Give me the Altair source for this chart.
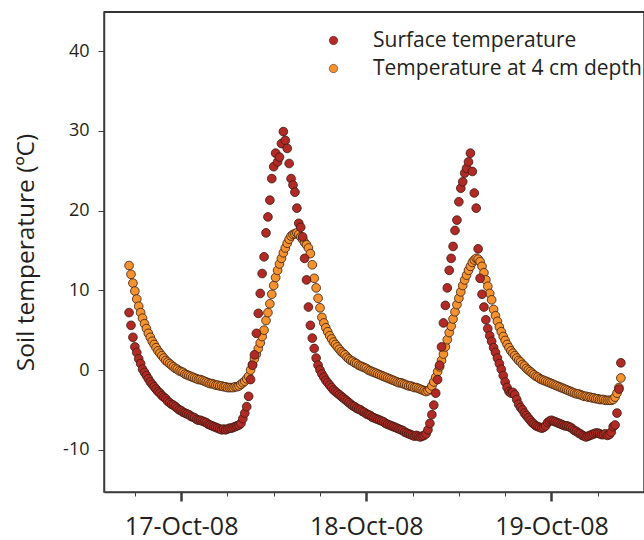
import altair as alt
import pandas as pd

series_names = ["Surface temperature", "Temperature at 4 cm depth"]
series_colors = ["#b22a26", "#f4922f"]
start_time = "2008-10-16T17:15:00"   # first reading, logger every 15 min
interval_minutes = 15

# Surface temperature (deg C), one row = one hour of 15-min readings
surface = [
    7.2, 5.6, 4.1, 2.9,
    2.2, 1.4, 0.8, 0.1,
    -0.3, -0.7, -1.1, -1.5,
    -1.8, -2.1, -2.4, -2.7,
    -2.9, -3.2, -3.4, -3.6,
    -3.9, -4.1, -4.3, -4.4,
    -4.6, -4.8, -5.0, -5.1,
    -5.3, -5.4, -5.5, -5.6,
    -5.8, -5.9, -6.0, -6.2,
    -6.3, -6.3, -6.4, -6.5,
    -6.6, -6.8, -6.9, -7.0,
    -7.1, -7.2, -7.3, -7.4,
    -7.5, -7.4, -7.5, -7.4,
    -7.3, -7.3, -7.2, -7.1,
    -7.0, -6.9, -6.7, -6.1,
    -5.4, -4.6, -3.3, -1.2,
    0.6, 1.9, 4.6, 7.1,
    9.6, 12.1, 14.2, 17.2,
    19.2, 21.3, 24.0, 25.5,
    27.2, 26.1, 26.7, 28.4,
    29.9, 28.8, 27.8, 25.9,
    24.0, 23.2, 22.3, 20.3,
    18.4, 17.9, 16.7, 14.0,
    11.3, 7.9, 5.6, 4.0,
    2.7, 1.5, 0.6, 0.0,
    -0.5, -0.9, -1.3, -1.6,
    -1.9, -2.2, -2.5, -2.7,
    -2.9, -3.1, -3.3, -3.5,
    -3.7, -3.9, -4.1, -4.3,
    -4.5, -4.6, -4.8, -4.9,
    -5.0, -5.2, -5.3, -5.5,
    -5.6, -5.7, -5.9, -6.0,
    -6.1, -6.2, -6.3, -6.4,
    -6.5, -6.7, -6.8, -6.9,
    -7.0, -7.1, -7.2, -7.3,
    -7.4, -7.5, -7.6, -7.8,
    -7.9, -8.0, -8.1, -8.2,
    -8.3, -8.2, -8.3, -8.4,
    -8.3, -8.2, -8.0, -7.5,
    -6.7, -5.6, -4.4, -2.9,
    -1.2, 0.6, 2.9, 5.9,
    8.1, 10.3, 12.5, 14.0,
    15.5, 17.5, 18.8, 21.1,
    22.8, 23.6, 24.7, 25.3,
    26.1, 27.2, 24.9, 22.2,
    20.3, 15.2, 11.5, 9.5,
    7.9, 6.3, 5.2, 4.3,
    3.6, 2.8, 2.2, 1.5,
    0.8, 0.1, -0.7, -1.5,
    -2.2, -2.7, -2.9, -2.8,
    -3.1, -3.7, -4.3, -4.7,
    -5.0, -5.4, -5.7, -6.0,
    -6.3, -6.6, -6.8, -7.0,
    -7.1, -7.2, -7.3, -7.2,
    -7.0, -6.6, -6.4, -6.3,
    -6.4, -6.5, -6.6, -6.7,
    -6.8, -6.9, -7.0, -7.0,
    -7.1, -7.2, -7.4, -7.6,
    -7.7, -7.9, -8.0, -8.2,
    -8.3, -8.4, -8.3, -8.2,
    -8.1, -8.0, -7.9, -7.9,
    -8.0, -8.1, -8.1, -8.0,
    -8.2, -8.1, -7.8, -7.1,
    -6.9, -5.4, -2.4, 0.9,
]

# Temperature at 4 cm depth (deg C), same timing
depth4 = [
    13.1, 12.0, 10.9, 9.9,
    8.9, 8.0, 7.2, 6.5,
    5.8, 5.2, 4.6, 4.1,
    3.6, 3.2, 2.8, 2.4,
    2.1, 1.8, 1.5, 1.2,
    1.0, 0.8, 0.6, 0.4,
    0.2, 0.1, -0.1, -0.2,
    -0.3, -0.5, -0.6, -0.7,
    -0.8, -0.9, -1.0, -1.1,
    -1.2, -1.2, -1.3, -1.4,
    -1.5, -1.6, -1.7, -1.7,
    -1.8, -1.9, -1.9, -2.0,
    -2.0, -2.1, -2.1, -2.2,
    -2.2, -2.2, -2.2, -2.1,
    -2.1, -2.0, -1.8, -1.6,
    -1.4, -1.1, -0.8, 0.0,
    0.7, 1.4, 2.0, 2.7,
    3.4, 4.2, 5.0, 6.2,
    7.2, 8.3, 9.5, 10.6,
    11.6, 12.5, 13.3, 14.0,
    14.7, 15.3, 15.9, 16.4,
    16.8, 17.0, 17.1, 17.2,
    17.0, 16.7, 16.4, 16.0,
    15.7, 15.3, 14.6, 13.2,
    11.5, 10.3, 9.0, 7.8,
    6.6, 5.9, 5.3, 4.8,
    4.3, 3.9, 3.5, 3.2,
    2.9, 2.6, 2.3, 2.1,
    1.9, 1.6, 1.4, 1.2,
    1.1, 0.9, 0.8, 0.6,
    0.5, 0.4, 0.3, 0.2,
    0.0, -0.1, -0.2, -0.3,
    -0.4, -0.5, -0.6, -0.7,
    -0.8, -0.9, -1.0, -1.1,
    -1.2, -1.3, -1.4, -1.5,
    -1.6, -1.6, -1.7, -1.8,
    -1.9, -2.0, -2.0, -2.1,
    -2.2, -2.2, -2.3, -2.4,
    -2.5, -2.6, -2.7, -2.6,
    -2.4, -2.0, -1.5, -0.9,
    -0.2, 0.4, 1.2, 2.0,
    2.9, 3.8, 4.7, 5.5,
    6.4, 7.3, 8.2, 9.0,
    9.8, 10.6, 11.3, 11.9,
    12.5, 13.0, 13.5, 13.8,
    14.0, 13.9, 13.6, 13.0,
    12.2, 11.3, 10.5, 9.6,
    8.8, 7.6, 6.8, 6.1,
    5.4, 4.8, 4.2, 3.7,
    3.2, 2.8, 2.4, 2.1,
    1.8, 1.5, 1.2, 1.0,
    0.7, 0.5, 0.2, 0.0,
    -0.2, -0.4, -0.6, -0.8,
    -0.9, -1.1, -1.2, -1.3,
    -1.4, -1.5, -1.6, -1.7,
    -1.8, -1.9, -2.0, -2.1,
    -2.2, -2.3, -2.4, -2.5,
    -2.6, -2.7, -2.8, -2.9,
    -3.0, -3.0, -3.1, -3.2,
    -3.3, -3.3, -3.4, -3.4,
    -3.5, -3.5, -3.6, -3.6,
    -3.7, -3.7, -3.7, -3.8,
    -3.8, -3.8, -3.8, -3.7,
    -3.4, -2.9, -2.2, -1.0,
]

y_ticks = [-10, 0, 10, 20, 30, 40]
y_domain = [-15.3, 44.9]
x_domain = [(2008, 10, 16, 14), (2008, 10, 19, 12)]
# axis ticks every 6 hours; labelled at midnight
x_tick_times = [(2008, 10, d, h) for d in (16, 17, 18, 19) for h in (0, 6, 12, 18)
                if (d, h) > (16, 14) and (d, h) < (19, 12)]

PLOT_W, PLOT_H = 540, 480


def dt(t):
    return alt.DateTime(year=t[0], month=t[1], date=t[2], hours=t[3])


def frame(values, name):
    t = pd.date_range(start_time, periods=len(values), freq=f"{interval_minutes}min")
    return pd.DataFrame({"time": t.strftime("%Y-%m-%dT%H:%M:%S"), "temp": values, "series": name})


# 4 cm depth drawn first, surface on top
df = pd.concat([frame(depth4, series_names[1]), frame(surface, series_names[0])], ignore_index=True)

FONT = "Open Sans"
TXT = "#231f20"
AX = "#3d3d3d"
midnight = "hours(datum.value) == 0"
y_scale = alt.Scale(domain=y_domain, nice=False, zero=False)

points = alt.Chart(df).mark_circle(
    size=76, opacity=1, stroke="#3a1a10", strokeWidth=0.8
).encode(
    x=alt.X(
        "time:T",
        scale=alt.Scale(domain=[dt(x_domain[0]), dt(x_domain[1])], nice=False),
        axis=alt.Axis(
            title=None,
            values=[dt(t) for t in x_tick_times],
            labelExpr=f"{midnight} ? timeFormat(datum.value, '%d-%b-%y') : ''",
            tickSize={"condition": {"test": midnight, "value": 9}, "value": 4},
            tickWidth={"condition": {"test": midnight, "value": 2.5}, "value": 1},
            tickColor=AX,
            domainColor=AX,
            domainWidth=1.5,
            labelFont=FONT,
            labelFontSize=25,
            labelColor=TXT,
            labelPadding=13,
            labelFlush=False,
            labelOverlap=False,
            grid=False,
        ),
    ),
    y=alt.Y(
        "temp:Q",
        scale=y_scale,
        axis=alt.Axis(
            title="Soil temperature (ºC)",
            values=y_ticks,
            labelExpr="datum.value + ''",
            tickSize=6,
            tickColor=AX,
            domainColor=AX,
            domainWidth=1.5,
            labelFont=FONT,
            labelFontSize=18,
            labelColor=TXT,
            labelPadding=9,
            titleFont=FONT,
            titleFontSize=24.5,
            titleFontWeight="normal",
            titleColor=TXT,
            titlePadding=24,
            grid=False,
        ),
    ),
    color=alt.Color(
        "series:N",
        scale=alt.Scale(domain=series_names, range=series_colors),
        legend=alt.Legend(
            title=None,
            orient="none",
            legendX=219,
            legendY=18,
            padding=0,
            labelFont=FONT,
            labelFontSize=21,
            labelColor=TXT,
            labelLimit=0,
            labelOffset=29,
            rowPadding=6,
            symbolType="circle",
            symbolSize=70,
            symbolStrokeColor="#3a1a10",
            symbolStrokeWidth=0.5,
        ),
    ),
    order=alt.Order("idx:Q"),
).transform_window(idx="row_number()")

# top edge of the plot frame, at the top of the y domain
frame_top = alt.Chart(pd.DataFrame({"edge": [0]})).mark_rule(
    color="#333333", strokeWidth=2
).encode(
    x=alt.value(0), x2=alt.value(PLOT_W), y=alt.datum(y_domain[1], scale=y_scale)
)

chart = alt.layer(points, frame_top).properties(
    width=PLOT_W,
    height=PLOT_H,
    autosize=alt.AutoSizeParams(type="none"),
    padding={"left": 104, "top": 12, "right": 0, "bottom": 48},
).configure_view(
    stroke=AX, strokeWidth=1.5
)

chart.save("out.html", embed_options={"renderer": "svg", "actions": False})
